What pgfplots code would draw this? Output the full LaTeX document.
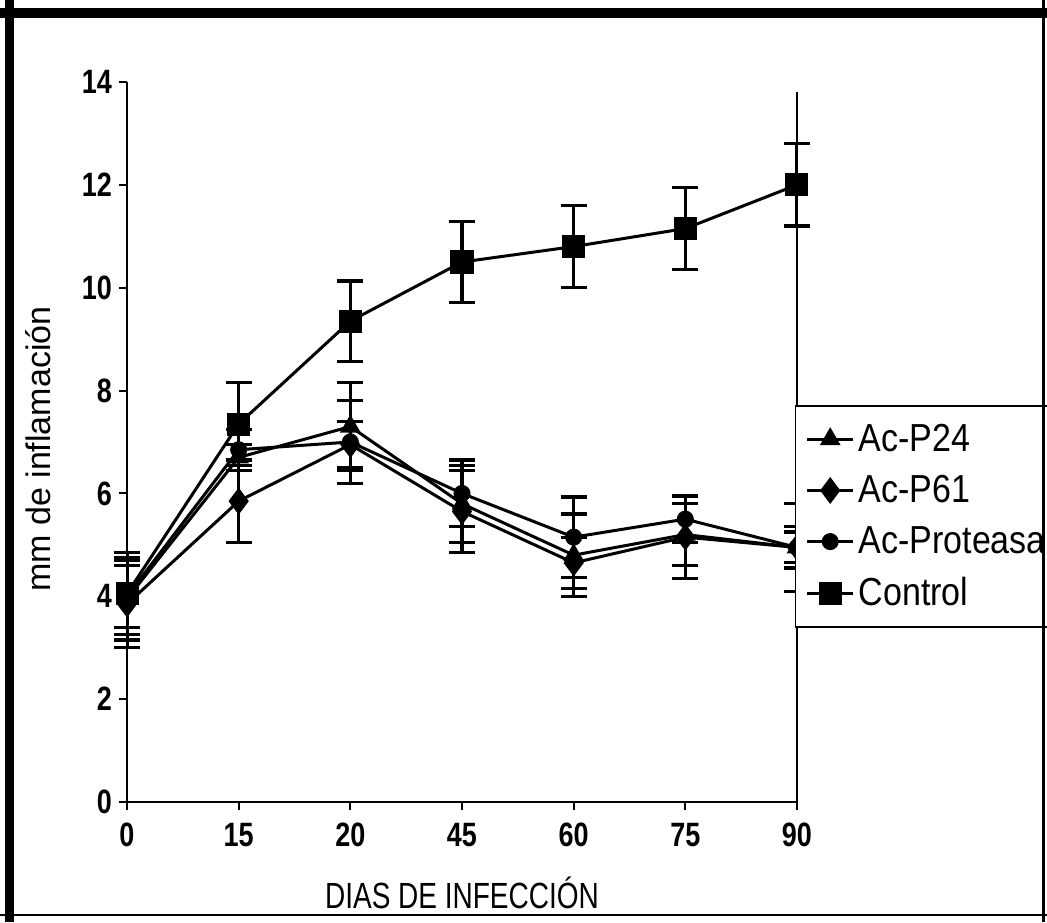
\documentclass[border=0pt]{standalone}
\usepackage{pgfplots}
\pgfplotsset{compat=1.18}
\usepackage{fontspec}
\setmainfont{Liberation Sans}
\newcommand{\tall}[2][1.25]{\scalebox{1}[#1]{#2}}
\begin{document}
\begin{tikzpicture}[x=1pt,y=1pt]
\useasboundingbox (0,0) rectangle (523.5,461);
\begin{scope}
\clip (0,0) rectangle (523.5,461);
\begin{axis}[
  at={(63.5pt,60pt)}, anchor=south west,
  scale only axis, width=335pt, height=360pt,
  xmin=0, xmax=6, ymin=0, ymax=14,
  axis x line*=bottom, axis y line*=left,
  xtick={0,1,2,3,4,5,6},
  xticklabels={\tall{0},\tall{15},\tall{20},\tall{45},\tall{60},\tall{75},\tall{90}},
  ytick={0,2,4,6,8,10,12,14},
  yticklabel={\tall{\pgfmathprintnumber{\tick}}},
  tick align=outside, major tick length=4pt,
  tick style={line width=1pt, black},
  axis line style={line width=1pt, black},
  /pgf/number format/assume math mode=true,
  ticklabel style={font=\bfseries\fontsize{13.5}{15}\selectfont},
  xticklabel style={yshift=-3pt},
  xlabel={\tall[1.3]{DIAS DE INFECCIÓN}},
  ylabel={mm de inflamación},
  xlabel style={font=\fontsize{14}{16}\selectfont, at={(axis description cs:0.5,-0.126)}, anchor=center},
  ylabel style={font=\fontsize{17}{19}\selectfont, at={(axis description cs:-0.133,0.49)}, anchor=center},
  clip=false,
  legend cell align=left,
  legend style={at={(0.997,0.551)}, anchor=north west, draw=black, line width=0.75pt,
    font=\fontsize{17}{19}\selectfont, inner xsep=5pt, inner ysep=7pt, row sep=6.5pt,
    /tikz/every even column/.append style={column sep=2pt}},
  legend image code/.code={\draw[mark repeat=2,mark phase=2,#1] plot coordinates {(0pt,0pt)(11.5pt,0pt)(23pt,0pt)};},
  every axis plot/.append style={black, line width=1.5pt},
  error bars/y dir=both, error bars/y explicit,
  error bars/error mark options={rotate=90, line width=1.6pt, mark size=6.5pt, black},
  error bars/error bar style={line width=1.5pt, black},
]
% vertical line at right edge of plot area
\draw[line width=0.9pt] (axis cs:6,0) -- (axis cs:6,13.8);

\addplot[mark=triangle*, mark size=4.5pt, mark options={solid, fill=black}] coordinates {
  (0,3.95) +- (0,0.8)
  (1,6.70) +- (0,0.25)
  (2,7.30) +- (0,0.85)
  (3,5.80) +- (0,0.75)
  (4,4.80) +- (0,0.80)
  (5,5.20) +- (0,0.60)
  (6,4.95) +- (0,0.30)
};
\addlegendentry{\tall[1.15]{Ac-P24}}
\addplot[mark=diamond*, mark size=5.5pt, mark options={solid, fill=black}] coordinates {
  (0,3.85) +- (0,0.85)
  (1,5.85) +- (0,0.80)
  (2,6.95) +- (0,0.45)
  (3,5.65) +- (0,0.80)
  (4,4.65) +- (0,0.50)
  (5,5.15) +- (0,0.80)
  (6,4.95) +- (0,0.85)
};
\addlegendentry{\tall[1.15]{Ac-P61}}
\addplot[mark=*, mark size=3.5pt, mark options={solid, fill=black}] coordinates {
  (0,4.00) +- (0,0.60)
  (1,6.85) +- (0,0.40)
  (2,7.00) +- (0,0.80)
  (3,6.00) +- (0,0.65)
  (4,5.15) +- (0,0.78)
  (5,5.50) +- (0,0.45)
  (6,4.95) +- (0,0.40)
};
\addlegendentry{\tall[1.15]{Ac-Proteasa}}
\addplot[mark=square*, mark size=5pt, mark options={solid, fill=black}] coordinates {
  (0,4.05) +- (0,0.80)
  (1,7.35) +- (0,0.80)
  (2,9.35) +- (0,0.78)
  (3,10.50) +- (0,0.78)
  (4,10.80) +- (0,0.80)
  (5,11.15) +- (0,0.80)
  (6,12.00) +- (0,0.80)
};
\addlegendentry{\tall[1.15]{Control}}
\end{axis}
\end{scope}
% outer frame
\draw[line width=5pt] (0,454.5) -- (523.5,454.5);
\draw[line width=4.5pt] (4.75,0) -- (4.75,461);
\draw[line width=1pt] (0,3.5) -- (523.5,3.5);
\draw[line width=1.5pt] (521.5,0) -- (521.5,461);
\end{tikzpicture}
\end{document}
